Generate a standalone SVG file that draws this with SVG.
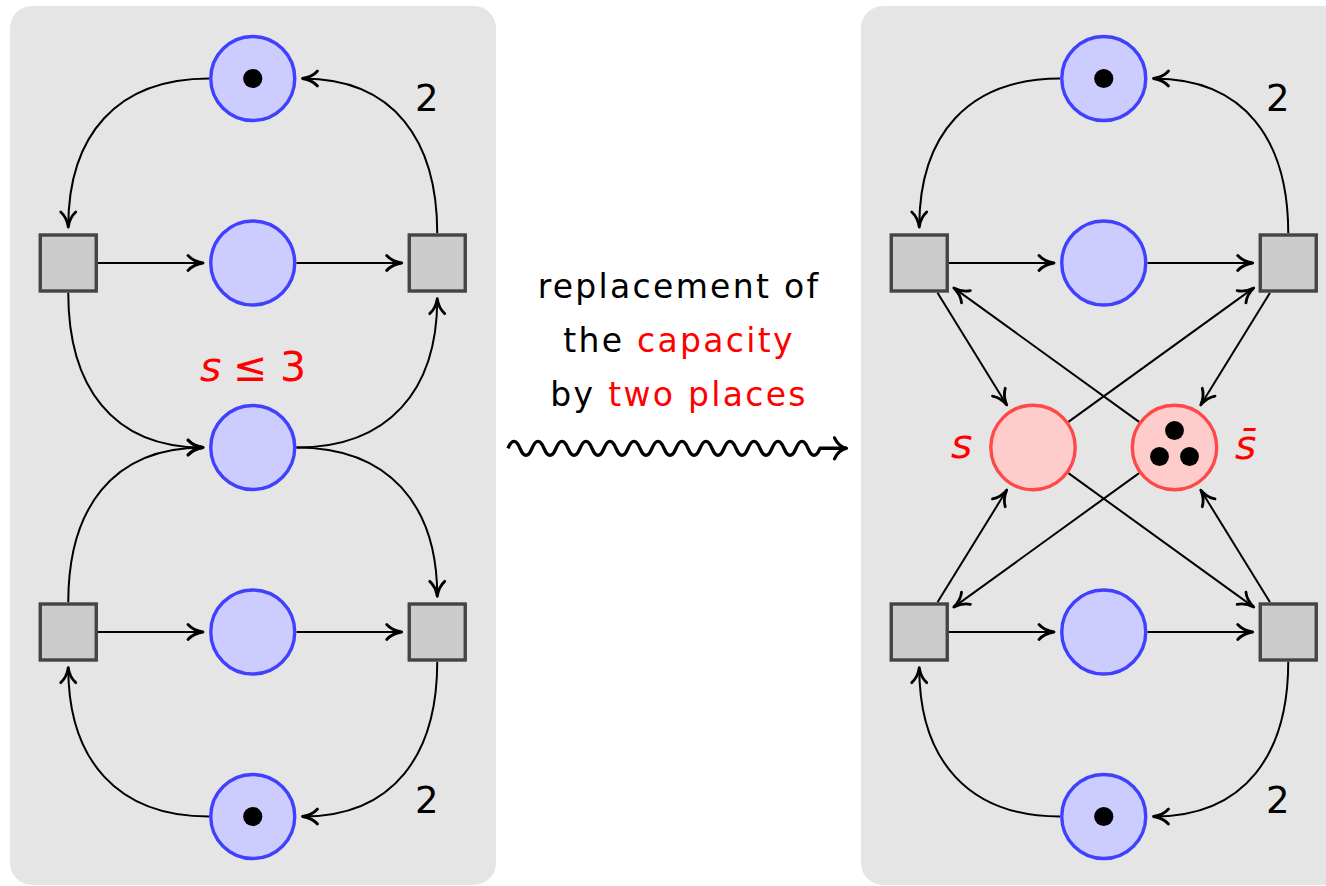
<svg xmlns="http://www.w3.org/2000/svg" width="1326" height="886" viewBox="0 0 1326 886">
  <style>
    .panel { fill: #e5e5e5; }
    .place { fill: #ccccff; stroke: #4040ff; stroke-width: 3.4; }
    .cap { fill: #ffcccc; stroke: #ff4848; stroke-width: 3.4; }
    .trans { fill: #cccccc; stroke: #444444; stroke-width: 3.4; }
    .tok { fill: #000000; }
    .arc { fill: none; stroke: #000000; stroke-width: 2; marker-end: url(#arr); }
    .lbl { font-family: "DejaVu Sans", "Liberation Sans", sans-serif; fill: #000000; }
    .red { fill: #ff0000; }
    .it { font-style: italic; }
  </style>
  <defs>
    <marker id="arr" markerUnits="userSpaceOnUse" markerWidth="40" markerHeight="40" refX="0" refY="0" orient="auto" overflow="visible" viewBox="-20 -20 40 40">
      <path d="M -15 -7.5 C -11 -3 -4 -0.6 0 0 C -4 0.6 -11 3 -15 7.5" fill="none" stroke="#000000" stroke-width="2.8" stroke-linecap="round" stroke-linejoin="round"/>
    </marker>
    <marker id="bigarr" markerUnits="userSpaceOnUse" markerWidth="40" markerHeight="40" refX="0" refY="0" orient="auto" overflow="visible" viewBox="-20 -20 40 40">
      <path d="M -12 -10.5 C -9 -4 -4 -1 0 0 C -4 1 -9 4 -12 10.5" fill="none" stroke="#000000" stroke-width="3.2" stroke-linecap="round" stroke-linejoin="round"/>
    </marker>
  </defs>

  <g id="panels">
    <rect class="panel" x="10" y="6" width="486" height="879" rx="22"/>
    <rect class="panel" x="861" y="6" width="486" height="879" rx="22"/>
  </g>

  <g id="connectors">
    <!-- left panel -->
    <path class="arc" d="M 209 78.5 C 117 78.5 68.25 135 68.25 227"/>
    <path class="arc" d="M 437.25 233.35 C 437.25 141 394.5 78.5 302.5 78.5"/>
    <path class="arc" d="M 98 263 H 203"/>
    <path class="arc" d="M 296.45 263 H 401.7"/>
    <path class="arc" d="M 68.25 292.65 C 68.25 384.65 111 447.5 203 447.5"/>
    <path class="arc" d="M 296.45 447.5 C 388.45 447.5 437.25 390.65 437.25 298.65"/>
    <path class="arc" d="M 68.25 602.35 C 68.25 510.35 111 447.5 203 447.5"/>
    <path class="arc" d="M 296.45 447.5 C 388.45 447.5 437.25 504.35 437.25 596.35"/>
    <path class="arc" d="M 98 632 H 203"/>
    <path class="arc" d="M 296.45 632 H 401.7"/>
    <path class="arc" d="M 437.25 661.65 C 437.25 753.65 394.5 816.5 302.5 816.5"/>
    <path class="arc" d="M 209 816.5 C 117 816.5 68.25 759.65 68.25 667.65"/>
    <!-- right panel -->
    <path class="arc" d="M 1060 78.5 C 968 78.5 919.25 135 919.25 227"/>
    <path class="arc" d="M 1288.25 233.35 C 1288.25 141 1245.5 78.5 1153.5 78.5"/>
    <path class="arc" d="M 949 263 H 1054"/>
    <path class="arc" d="M 1147.45 263 H 1252.7"/>
    <path class="arc" d="M 949 632 H 1054"/>
    <path class="arc" d="M 1147.45 632 H 1252.7"/>
    <path class="arc" d="M 1288.25 661.65 C 1288.25 753.65 1245.5 816.5 1153.5 816.5"/>
    <path class="arc" d="M 1060 816.5 C 968 816.5 919.25 759.65 919.25 667.65"/>
    <path class="arc" d="M 937.5 292.65 L 1006.75 404.93"/>
    <path class="arc" d="M 1139.1 421.9 L 953.8 287.9"/>
    <path class="arc" d="M 1068.4 421.9 L 1253.7 287.9"/>
    <path class="arc" d="M 1270 292.65 L 1200.75 404.93"/>
    <path class="arc" d="M 937.5 602.35 L 1006.75 490.07"/>
    <path class="arc" d="M 1139.1 473.1 L 953.8 607.1"/>
    <path class="arc" d="M 1068.4 473.1 L 1253.7 607.1"/>
    <path class="arc" d="M 1270 602.35 L 1200.75 490.07"/>
  </g>

  <g id="left-net">
    <g id="p-top-l"><circle class="place" cx="252.75" cy="78.5" r="42"/><circle class="tok" cx="252.75" cy="78.5" r="9.6"/></g>
    <g id="p-row1-l"><circle class="place" cx="252.75" cy="263" r="42"/></g>
    <g id="p-s-l"><circle class="place" cx="252.75" cy="447.5" r="42"/></g>
    <g id="p-row2-l"><circle class="place" cx="252.75" cy="632" r="42"/></g>
    <g id="p-bot-l"><circle class="place" cx="252.75" cy="816.5" r="42"/><circle class="tok" cx="252.75" cy="816.5" r="9.6"/></g>
    <g id="t1-l"><rect class="trans" x="40.25" y="235" width="56" height="56"/></g>
    <g id="t2-l"><rect class="trans" x="409.25" y="235" width="56" height="56"/></g>
    <g id="t3-l"><rect class="trans" x="40.25" y="604" width="56" height="56"/></g>
    <g id="t4-l"><rect class="trans" x="409.25" y="604" width="56" height="56"/></g>
  </g>

  <g id="right-net">
    <g id="p-top-r"><circle class="place" cx="1103.75" cy="78.5" r="42"/><circle class="tok" cx="1103.75" cy="78.5" r="9.6"/></g>
    <g id="p-row1-r"><circle class="place" cx="1103.75" cy="263" r="42"/></g>
    <g id="p-row2-r"><circle class="place" cx="1103.75" cy="632" r="42"/></g>
    <g id="p-bot-r"><circle class="place" cx="1103.75" cy="816.5" r="42"/><circle class="tok" cx="1103.75" cy="816.5" r="9.6"/></g>
    <g id="p-s-r"><circle class="cap" cx="1033" cy="447.5" r="42.2"/></g>
    <g id="p-sbar-r"><circle class="cap" cx="1174.5" cy="447.5" r="42.2"/>
      <circle class="tok" cx="1174.5" cy="430.5" r="9.4"/>
      <circle class="tok" cx="1159.5" cy="456.5" r="9.4"/>
      <circle class="tok" cx="1189.5" cy="456.5" r="9.4"/>
    </g>
    <g id="t1-r"><rect class="trans" x="891.25" y="235" width="56" height="56"/></g>
    <g id="t2-r"><rect class="trans" x="1260.25" y="235" width="56" height="56"/></g>
    <g id="t3-r"><rect class="trans" x="891.25" y="604" width="56" height="56"/></g>
    <g id="t4-r"><rect class="trans" x="1260.25" y="604" width="56" height="56"/></g>
  </g>

  <g id="labels">
    <text class="lbl" x="426.7" y="110.7" font-size="37" text-anchor="middle">2</text>
    <text class="lbl" x="426.7" y="813.3" font-size="37" text-anchor="middle">2</text>
    <text class="lbl" x="1277.7" y="111" font-size="37" text-anchor="middle">2</text>
    <text class="lbl" x="1277.7" y="813.3" font-size="37" text-anchor="middle">2</text>
    <text class="lbl red" y="380.7" font-size="41"><tspan class="it" x="200">s</tspan><tspan x="233">≤</tspan><tspan x="280">3</tspan></text>
    <text class="lbl red it" x="951" y="458.3" font-size="41">s</text>
    <text class="lbl red it" x="1235" y="459" font-size="41">s̄</text>
  </g>

  <g id="transform-note">
    <text class="lbl" x="679" y="298" font-size="33" letter-spacing="2.3" text-anchor="middle">replacement of</text>
    <text class="lbl" x="679" y="352" font-size="33" letter-spacing="2.3" text-anchor="middle">the <tspan class="red">capacity</tspan></text>
    <text class="lbl" x="679" y="406" font-size="33" letter-spacing="2.3" text-anchor="middle">by <tspan class="red">two places</tspan></text>
    <path d="M 508 448.3 c 3.8,-9.3 8.2,-9.3 12,0 c 3.8,9.3 8.2,9.3 12,0 c 3.8,-9.3 8.2,-9.3 12,0 c 3.8,9.3 8.2,9.3 12,0 c 3.8,-9.3 8.2,-9.3 12,0 c 3.8,9.3 8.2,9.3 12,0 c 3.8,-9.3 8.2,-9.3 12,0 c 3.8,9.3 8.2,9.3 12,0 c 3.8,-9.3 8.2,-9.3 12,0 c 3.8,9.3 8.2,9.3 12,0 c 3.8,-9.3 8.2,-9.3 12,0 c 3.8,9.3 8.2,9.3 12,0 c 3.8,-9.3 8.2,-9.3 12,0 c 3.8,9.3 8.2,9.3 12,0 c 3.8,-9.3 8.2,-9.3 12,0 c 3.8,9.3 8.2,9.3 12,0 c 3.8,-9.3 8.2,-9.3 12,0 c 3.8,9.3 8.2,9.3 12,0 c 3.8,-9.3 8.2,-9.3 12,0 c 3.8,9.3 8.2,9.3 12,0 c 3.8,-9.3 8.2,-9.3 12,0 c 3.8,9.3 8.2,9.3 12,0 c 3.8,-9.3 8.2,-9.3 12,0 c 3.8,9.3 8.2,9.3 12,0 c 3.8,-9.3 8.2,-9.3 12,0 c 3.8,9.3 8.2,9.3 12,0 L 846.5 448.3" fill="none" stroke="#000000" stroke-width="3.4" stroke-linejoin="round" marker-end="url(#bigarr)"/>
  </g>
</svg>
